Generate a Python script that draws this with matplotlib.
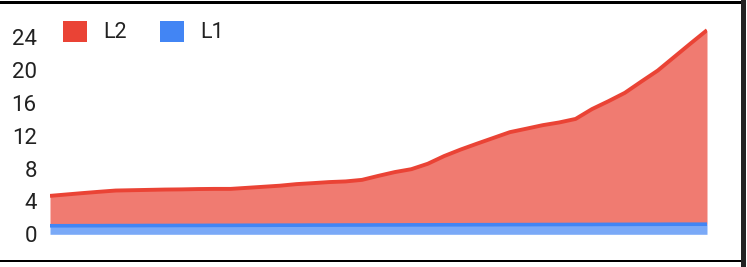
import numpy as np
import matplotlib.pyplot as plt
from matplotlib.patches import Patch, Rectangle

plt.rcParams['font.family'] = ['Roboto', 'DejaVu Sans']

# values (stacked: L2 sits on top of L1)
step = np.arange(41)
total = [4.68, 4.85, 5.02, 5.18, 5.33, 5.37, 5.41, 5.45, 5.47, 5.51,
         5.53, 5.53, 5.66, 5.79, 5.92, 6.11, 6.23, 6.36, 6.44, 6.63,
         7.12, 7.58, 7.93, 8.59, 9.53, 10.32, 11.04, 11.74, 12.44, 12.86,
         13.29, 13.62, 14.05, 15.25, 16.21, 17.23, 18.60, 19.94, 21.59, 23.24,
         24.86]
L1 = [1.04, 1.04, 1.05, 1.05, 1.06, 1.06, 1.07, 1.07, 1.08, 1.08,
      1.09, 1.09, 1.10, 1.10, 1.11, 1.11, 1.12, 1.12, 1.13, 1.13,
      1.14, 1.14, 1.15, 1.15, 1.16, 1.16, 1.17, 1.17, 1.18, 1.18,
      1.19, 1.19, 1.20, 1.20, 1.21, 1.21, 1.22, 1.22, 1.23, 1.23,
      1.23]
L2 = [t - a for t, a in zip(total, L1)]
yticks = [0, 4, 8, 12, 16, 20, 24]

red = '#ea4335'
blue = '#4285f4'

fig = plt.figure(figsize=(7.47, 2.67), dpi=100)
ax = fig.add_axes([50 / 747, 32.7 / 267, 657 / 747, 213.5 / 267])

top1 = np.array(L1)
top2 = top1 + np.array(L2)
ax.fill_between(step, 0, top1, color=blue, alpha=0.7, lw=0)
ax.plot(step, top1, color=blue, lw=2.6, solid_capstyle='butt')
ax.fill_between(step, top1, top2, color=red, alpha=0.7, lw=0)
ax.plot(step, top2, color=red, lw=2.8, solid_capstyle='butt')

ax.set_xlim(step[0], step[-1])
ax.set_ylim(0, 26)
ax.set_yticks(yticks)
ax.set_yticklabels([str(v) for v in yticks], fontsize=16, color='#222222')
ax.tick_params(axis='y', length=0, pad=9.5)
ax.set_xticks([])
for s in ax.spines.values():
    s.set_visible(False)

handles = [Patch(facecolor=red, edgecolor='none', label='L2'),
           Patch(facecolor=blue, edgecolor='none', label='L1')]
fig.legend(handles=handles, loc='center left', bbox_to_anchor=(63 / 747, 1 - 32 / 267),
           ncol=2, frameon=False, fontsize=15.5, handlelength=1.12, handleheight=1.12,
           handletextpad=0.75, columnspacing=1.55, borderpad=0, borderaxespad=0,
           labelcolor='#222222')

# frame lines around the picture
fig.patches.append(Rectangle((0, 1 - 3.5 / 267), 741 / 747, 2 / 267,
                             transform=fig.transFigure, color='black', lw=0))
fig.patches.append(Rectangle((0, 1 - 262 / 267), 741 / 747, 2.5 / 267,
                             transform=fig.transFigure, color='black', lw=0))
fig.patches.append(Rectangle((740.5 / 747, 0), 5.5 / 747, 1,
                             transform=fig.transFigure, color='#222222', lw=0))

fig.savefig('out.png', dpi=100)
